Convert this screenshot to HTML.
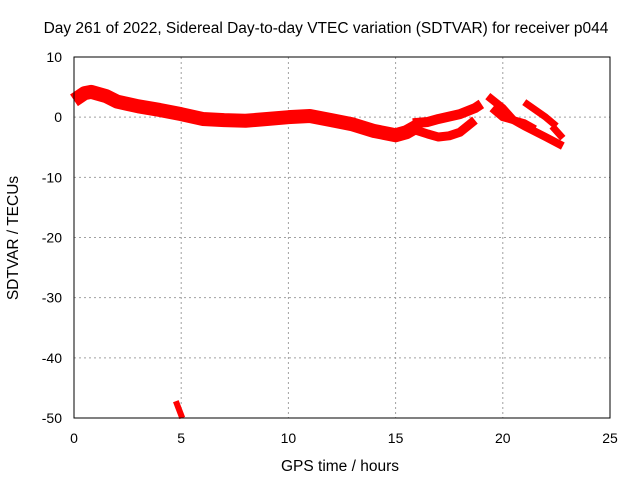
<!DOCTYPE html>
<html><head><meta charset="utf-8"><style>
body{margin:0;background:#fff;}
svg text{font-family:"Liberation Sans",sans-serif;font-size:14px;fill:#000;}
svg text.big{font-size:15.5px;}
</style></head><body>
<svg id="c" width="640" height="480">
<text class="big" x="326" y="33" text-anchor="middle">Day 261 of 2022, Sidereal Day-to-day VTEC variation (SDTVAR) for receiver p044</text>
<text class="big" x="340" y="471" text-anchor="middle">GPS time / hours</text>
<text class="big" transform="translate(18,238) rotate(-90)" text-anchor="middle">SDTVAR / TECUs</text>
<g id="grid"></g><g id="marks"></g>
<rect x="74" y="57" width="536" height="361" fill="none" stroke="#000"/>
<g id="ticks"></g>
</svg>
<script>
const xTicks=[0,5,10,15,20,25];
const yTicks=[10,0,-10,-20,-30,-40,-50];
const mainHours=[0,0.5,0.8,1.5,2,3,4,5,6,7,8,9,10,11,12,13,14,15,15.5,16];
const mainVals=[2.8,4,4.2,3.5,2.6,1.8,1.2,0.5,-0.3,-0.5,-0.6,-0.3,0,0.2,-0.5,-1.2,-2.3,-3,-2.5,-1.5];
const upHours=[15.8,16.5,17,18,18.7,19];
const upVals=[-1,-0.8,-0.3,0.5,1.5,2.2];
const loHours=[15.8,16.5,17,17.5,18,18.7];
const loVals=[-2,-2.8,-3.3,-3.1,-2.5,-0.5];
const aHours=[19.3,20,20.5,21,22,22.8];
const aVals=[3.5,1.5,-0.5,-1.5,-3.3,-4.8];
const bHours=[19.5,20,21,21.5];
const bVals=[1.5,0,-1,-2];
const cHours=[21,22,22.5];
const cVals=[2.5,0,-1.5];
const dHours=[22.3,22.8];
const dVals=[-1.5,-3.5];
const eHours=[4.75,5.05];
const eVals=[-47.2,-50];
const X=h=>74+h*536/25, Y=v=>57+(10-v)*361/60;
const ns='http://www.w3.org/2000/svg';
const g=document.getElementById('grid'),t=document.getElementById('ticks'),m=document.getElementById('marks');
function el(tag,at,p){const e=document.createElementNS(ns,tag);for(const k in at)e.setAttribute(k,at[k]);p.appendChild(e);return e;}
xTicks.forEach(v=>{
 if(v>0&&v<25){const l=el('line',{x1:X(v),x2:X(v),y1:57,y2:418,stroke:'#a0a0a0','stroke-dasharray':'2,3'},g);
 }
 const s=el('text',{x:X(v),y:443,'text-anchor':'middle'},t);s.textContent=v;
 
});
yTicks.forEach(v=>{
 if(v<10&&v>-50){const l=el('line',{x1:74,x2:610,y1:Y(v),y2:Y(v),stroke:'#a0a0a0','stroke-dasharray':'2,3'},g);
 }
 const s=el('text',{x:62,y:Y(v)+5,'text-anchor':'end'},t);s.textContent=v;
 
});
function band(hs,vs,w,name){
 const p=el('polyline',{points:hs.map((h,i)=>X(h)+','+Y(vs[i])).join(' '),fill:'none',stroke:'#ff0000','stroke-width':w,'stroke-linejoin':'round'},m);
 
}
band(mainHours,mainVals,14,'series-main');
band(upHours,upVals,10,'series-upper');
band(loHours,loVals,9,'series-lower');
band(aHours,aVals,8,'series-a');
band(bHours,bVals,8,'series-b');
band(cHours,cVals,7,'series-c');
band(dHours,dVals,7,'series-d');
band(eHours,eVals,6,'series-outlier');
</script>
</body></html>
